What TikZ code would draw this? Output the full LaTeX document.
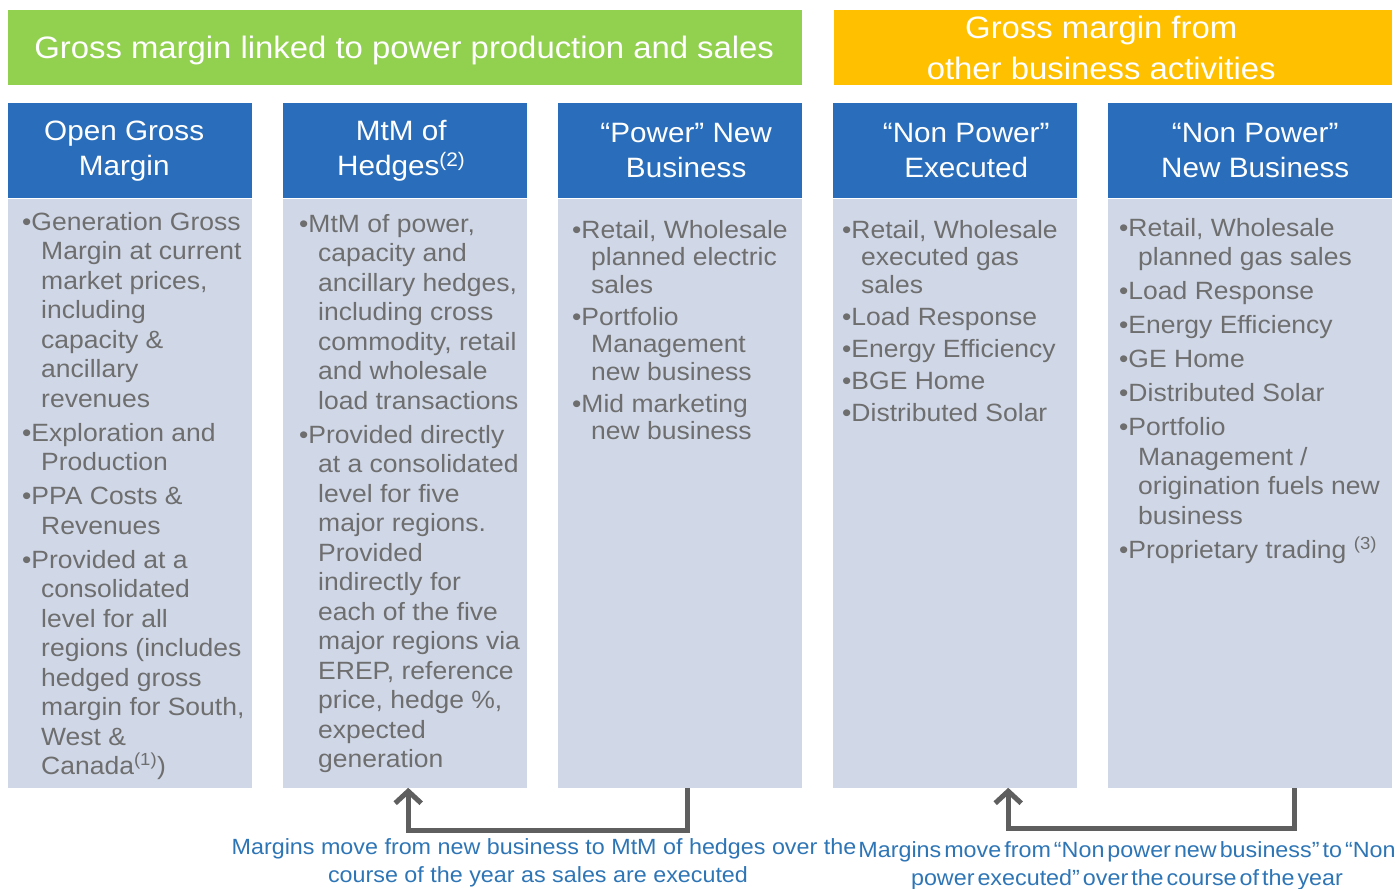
\documentclass[tikz,border=0pt]{standalone}
\usepackage{fontspec}
\setmainfont{Liberation Sans}[FakeStretch=1.06]
\usetikzlibrary{arrows.meta}

\definecolor{bandgreen}{HTML}{92D050}
\definecolor{bandorange}{HTML}{FFC000}
\definecolor{headblue}{HTML}{2A6EBB}
\definecolor{bodyblue}{HTML}{D0D8E8}
\definecolor{itemgrey}{HTML}{6E6E6E}
\definecolor{noteblue}{HTML}{2E75B6}
\definecolor{flowgrey}{HTML}{5F5F5F}

\newcommand{\itm}{\\[4.5pt]\textbullet}
\newcommand{\ind}{\hspace*{19pt}}
\newcommand{\tightspaces}{\spaceskip=3pt plus 1pt\relax}

\begin{document}
\begin{tikzpicture}[x=1pt,y=-1pt,
        band/.style={minimum height=75pt,inner sep=0pt,anchor=north west},
        bandtext/.style={inner sep=0pt,text=white,font=\fontsize{31}{41}\selectfont,align=center},
        head/.style={fill=headblue,minimum width=244pt,minimum height=95pt,inner sep=0pt,
            anchor=north west},
        headtext/.style={inner sep=0pt,text=white,font=\fontsize{28}{35}\selectfont,align=center},
        body/.style={fill=bodyblue,minimum width=244pt,minimum height=589pt,inner sep=0pt,
            anchor=north west},
        items/.style={anchor=north west,inner sep=0pt,align=left,text=itemgrey,
            font=\fontsize{25}{29.5}\selectfont},
        note/.style={text=noteblue,align=center,font=\fontsize{22}{28}\selectfont},
        flow/.style={draw=flowgrey,line width=5pt,-{Straight Barb[length=12pt,width=26pt]}}
    ]
    \useasboundingbox (0,0) rectangle (1396,888);

    % top bands
    \node [band,fill=bandgreen,minimum width=794pt] (PWR) at (8,10) {};
    \node [band,fill=bandorange,minimum width=558pt] (OTH) at (834,10) {};
    \node [bandtext,text depth=0pt] (PWRlabel) at ([xshift=-1pt]PWR.center)
        {Gross margin linked to power production and sales};
    \node [bandtext] (OTHlabel) at ([xshift=-12pt]OTH.center)
        {Gross margin from\\other business activities};

    % column heads
    \node [head] (OGM) at (8,103) {};
    \node [head] (MTM) at (283,103) {};
    \node [head] (PNB) at (558,103) {};
    \node [head] (NPE) at (833,103) {};
    \node [head,minimum width=284pt] (NPNB) at (1108,103) {};

    \node [headtext] (OGMlabel) at ([xshift=-6pt]OGM.center) {Open Gross\\Margin};
    \node [headtext] (MTMlabel) at ([xshift=-4pt]MTM.center) {MtM of\\Hedges\textsuperscript{(2)}};
    \node [headtext] (PNBlabel) at ([xshift=6pt]PNB.center) {“Power” New\\Business};
    \node [headtext] (NPElabel) at ([xshift=11pt]NPE.center) {“Non Power”\\Executed};
    \node [headtext] (NPNBlabel) at ([xshift=5pt]NPNB.center) {“Non Power”\\New Business};

    \node [body] (OGMbody) at (OGM.south west) {};
    \node [body] (MTMbody) at (MTM.south west) {};
    \node [body] (PNBbody) at (PNB.south west) {};
    \node [body] (NPEbody) at (NPE.south west) {};
    \node [body,minimum width=284pt] (NPNBbody) at (NPNB.south west) {};

    % column texts
    \node [items] (OGMtext) at (22,212) {\textbullet Generation Gross\\
        \ind Margin at current\\
        \ind market prices,\\
        \ind including\\
        \ind capacity \&\\
        \ind ancillary\\
        \ind revenues
        \itm Exploration and\\
        \ind Production
        \itm PPA Costs \&\\
        \ind Revenues
        \itm Provided at a\\
        \ind consolidated\\
        \ind level for all\\
        \ind regions (includes\\
        \ind hedged gross\\
        \ind margin for South,\\
        \ind West \&\\
        \ind Canada\textsuperscript{(1)})};
    \node [items] (MTMtext) at (299,214) {\textbullet MtM of power,\\
        \ind capacity and\\
        \ind ancillary hedges,\\
        \ind including cross\\
        \ind commodity, retail\\
        \ind and wholesale\\
        \ind load transactions
        \itm Provided directly\\
        \ind at a consolidated\\
        \ind level for five\\
        \ind major regions.\\
        \ind Provided\\
        \ind indirectly for\\
        \ind each of the five\\
        \ind major regions via\\
        \ind EREP, reference\\
        \ind price, hedge \%,\\
        \ind expected\\
        \ind generation};
    \node [items,font=\fontsize{25}{27.5}\selectfont] (PNBtext) at (572,220)
        {\textbullet Retail, Wholesale\\
        \ind planned electric\\
        \ind sales
        \itm Portfolio\\
        \ind Management\\
        \ind new business
        \itm Mid marketing\\
        \ind new business};
    \node [items,font=\fontsize{25}{27.5}\selectfont] (NPEtext) at (842,220)
        {\textbullet Retail, Wholesale\\
        \ind executed gas\\
        \ind sales
        \itm Load Response
        \itm Energy Efficiency
        \itm BGE Home
        \itm Distributed Solar};
    \node [items] (NPNBtext) at (1119,218) {\textbullet Retail, Wholesale\\
        \ind planned gas sales
        \itm Load Response
        \itm Energy Efficiency
        \itm GE Home
        \itm Distributed Solar
        \itm Portfolio\\
        \ind Management /\\
        \ind origination fuels new\\
        \ind business
        \itm Proprietary trading \textsuperscript{(3)}};

    % margin flows
    \draw [flow] ([xshift=7pt]PNBbody.south) -- ++(0,43) -| ([xshift=3pt]MTMbody.south);
    \draw [flow] ([xshift=44pt]NPNBbody.south) -- ++(0,41) -| ([xshift=53pt]NPEbody.south);

    \node [note] (PNBnote) at (544,863)
        {Margins move from new business to MtM of hedges over the\\course of the year as sales are executed\hspace*{12pt}};
    \node [note,font=\fontsize{22}{28}\selectfont\tightspaces] (NPNBnote) at (1127,866)
        {Margins move from “Non power new business” to “Non\\power executed” over the course of the year};
\end{tikzpicture}
\end{document}
